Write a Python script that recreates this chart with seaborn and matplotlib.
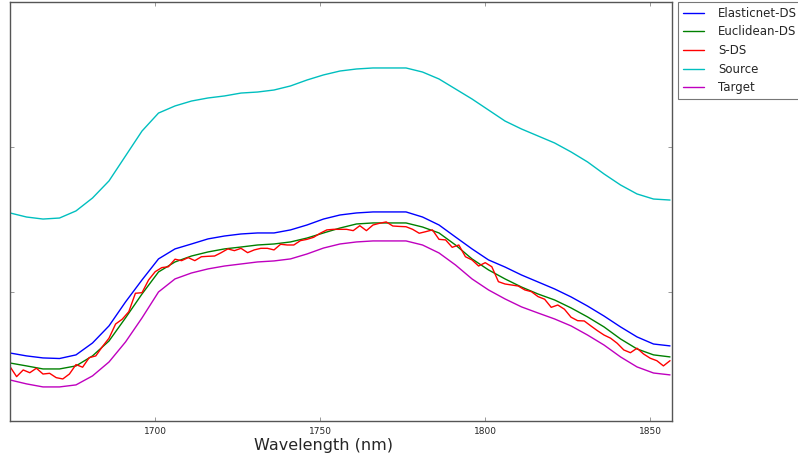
import numpy as np
import pandas as pd
import matplotlib
matplotlib.use("Agg")
import matplotlib.pyplot as plt
import seaborn as sns

# wavelengths (nm) for the smooth spectra and for the noisy S-DS spectrum
wl_smooth = np.arange(1656, 1857, 5)
wl_sds = np.arange(1656, 1857, 2)

elasticnet_ds = [0.3579, 0.3559, 0.3545, 0.3541, 0.3566, 0.3648, 0.3766, 0.3931, 0.4083, 0.4228,
                 0.4297, 0.4331, 0.4366, 0.4386, 0.4400, 0.4407, 0.4407, 0.4428, 0.4462, 0.4503,
                 0.4531, 0.4545, 0.4552, 0.4552, 0.4552, 0.4517, 0.4462, 0.4379, 0.4297, 0.4221,
                 0.4172, 0.4117, 0.4069, 0.4021, 0.3966, 0.3903, 0.3834, 0.3759, 0.3690, 0.3641,
                 0.3628]

euclidean_ds = [0.3510, 0.3490, 0.3469, 0.3469, 0.3490, 0.3559, 0.3662, 0.3821, 0.3986, 0.4138,
                0.4207, 0.4248, 0.4276, 0.4297, 0.4310, 0.4324, 0.4331, 0.4345, 0.4372, 0.4407,
                0.4441, 0.4469, 0.4476, 0.4476, 0.4476, 0.4448, 0.4407, 0.4324, 0.4228, 0.4152,
                0.4090, 0.4034, 0.3986, 0.3945, 0.3890, 0.3828, 0.3759, 0.3676, 0.3607, 0.3566,
                0.3552]

source = [0.4545, 0.4517, 0.4503, 0.4510, 0.4559, 0.4648, 0.4766, 0.4938, 0.5110, 0.5234,
          0.5283, 0.5317, 0.5338, 0.5352, 0.5372, 0.5379, 0.5393, 0.5421, 0.5462, 0.5497,
          0.5524, 0.5538, 0.5545, 0.5545, 0.5545, 0.5517, 0.5469, 0.5400, 0.5331, 0.5255,
          0.5179, 0.5124, 0.5076, 0.5028, 0.4966, 0.4897, 0.4814, 0.4738, 0.4676, 0.4641,
          0.4634]

target = [0.3393, 0.3366, 0.3345, 0.3345, 0.3359, 0.3421, 0.3517, 0.3655, 0.3821, 0.4000,
          0.4090, 0.4131, 0.4159, 0.4179, 0.4193, 0.4207, 0.4214, 0.4228, 0.4262, 0.4303,
          0.4331, 0.4345, 0.4352, 0.4352, 0.4352, 0.4324, 0.4269, 0.4186, 0.4090, 0.4014,
          0.3952, 0.3897, 0.3855, 0.3814, 0.3766, 0.3703, 0.3634, 0.3552, 0.3483, 0.3441,
          0.3428]

s_ds = [0.3485, 0.3416, 0.3462, 0.3443, 0.3474, 0.3434, 0.3439, 0.3409, 0.3400, 0.3434,
        0.3499, 0.3481, 0.3547, 0.3559, 0.3623, 0.3681, 0.3779, 0.3812, 0.3864, 0.3991,
        0.3995, 0.4083, 0.4140, 0.4168, 0.4174, 0.4226, 0.4216, 0.4237, 0.4216, 0.4243,
        0.4246, 0.4248, 0.4271, 0.4297, 0.4285, 0.4301, 0.4271, 0.4290, 0.4301, 0.4301,
        0.4290, 0.4329, 0.4324, 0.4324, 0.4354, 0.4363, 0.4377, 0.4405, 0.4428, 0.4432,
        0.4432, 0.4432, 0.4423, 0.4457, 0.4423, 0.4462, 0.4474, 0.4483, 0.4455, 0.4452,
        0.4450, 0.4432, 0.4405, 0.4416, 0.4428, 0.4363, 0.4359, 0.4308, 0.4324, 0.4243,
        0.4221, 0.4179, 0.4202, 0.4174, 0.4071, 0.4055, 0.4048, 0.4041, 0.4014, 0.4002,
        0.3968, 0.3950, 0.3894, 0.3910, 0.3881, 0.3826, 0.3802, 0.3800, 0.3766, 0.3733,
        0.3703, 0.3681, 0.3646, 0.3600, 0.3581, 0.3612, 0.3572, 0.3543, 0.3526, 0.3490,
        0.3526]

methods = ["Elasticnet-DS", "Euclidean-DS", "S-DS", "Source", "Target"]
colors = ["#0000ff", "#008000", "#ff0000", "#00bfbf", "#bf00bf"]


def build_frame():
    parts = []
    series = {
        "Elasticnet-DS": (wl_smooth, elasticnet_ds),
        "Euclidean-DS": (wl_smooth, euclidean_ds),
        "S-DS": (wl_sds, s_ds),
        "Source": (wl_smooth, source),
        "Target": (wl_smooth, target),
    }
    for name in methods:
        x, y = series[name]
        parts.append(pd.DataFrame({"Wavelength": x, "Value": y, "Method": name}))
    return pd.concat(parts, ignore_index=True)


df = build_frame()

sns.set_style("white")
plt.rcParams["font.family"] = ["DejaVu Sans"]

fig = plt.figure(figsize=(7.98, 4.61), dpi=100)
ax = fig.add_axes([10 / 798, 1 - 421 / 461, 662 / 798, 419 / 461])

sns.lineplot(data=df, x="Wavelength", y="Value", hue="Method", hue_order=methods,
             palette=colors, estimator=None, linewidth=1.0, ax=ax)

ax.set_xlim(1656, 1856.6)
ax.set_ylim(0.311, 0.6)
ax.set_xticks([1700, 1750, 1800, 1850])
ax.set_yticks([0.4, 0.5])
ax.set_yticklabels([])
ax.tick_params(axis="x", labelsize=6.5, pad=4)
ax.tick_params(direction="in", length=3, width=0.6, color="#888888",
               top=True, right=True, left=True, bottom=True)
for sp in ax.spines.values():
    sp.set_color("#555555")
    sp.set_linewidth(1.0)

ax.set_ylabel("")
ax.set_xlabel("Wavelength (nm)", fontsize=11.5)
ax.xaxis.set_label_coords(0.4736, -0.041)

leg = ax.legend(loc="upper left", bbox_to_anchor=(1.009, 1.0), fontsize=8.5,
                frameon=True, fancybox=False, borderaxespad=0.0,
                handlelength=1.8, handletextpad=1.2, labelspacing=0.48)
leg.get_frame().set_edgecolor("#555555")
leg.get_frame().set_linewidth(0.8)

fig.savefig("out.png", dpi=100)
